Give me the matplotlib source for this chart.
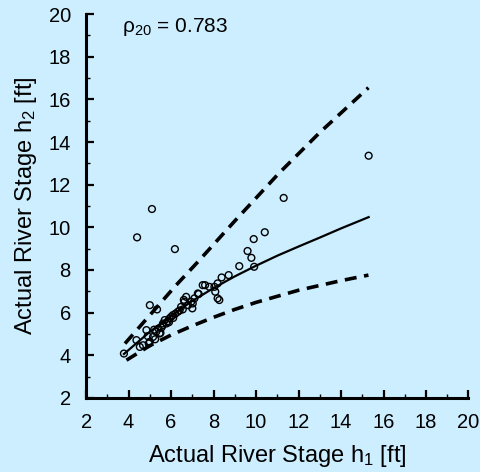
import numpy as np
import matplotlib.pyplot as plt
from matplotlib.ticker import MultipleLocator

plt.rcParams['font.family'] = ['Liberation Sans', 'DejaVu Sans']
plt.rcParams['mathtext.fontset'] = 'custom'
plt.rcParams['mathtext.rm'] = 'Liberation Sans'
plt.rcParams['mathtext.it'] = 'Liberation Sans:italic'

# observed stage pairs (h1, h2)
h1 = [3.78, 4.37, 4.53, 4.68, 4.84, 5.00, 5.15, 5.30, 5.46, 5.55, 5.62, 5.70,
      5.78, 5.85, 5.93, 6.00, 6.08, 6.20, 6.32, 6.40, 6.47, 6.55, 6.63, 6.71,
      6.80, 6.95, 7.02, 7.10, 7.26, 7.30, 7.49, 7.60, 7.80, 8.04, 8.08, 8.19,
      8.19, 8.27, 8.38, 8.71, 9.21, 9.60, 9.78, 9.89, 9.91, 10.41, 11.30, 15.30,
      4.40, 5.10, 6.18, 5.00, 5.34, 4.90, 5.20, 5.40, 5.60, 6.10, 5.90, 4.95,
      5.25, 5.50, 6.60, 7.00]
h2 = [4.08, 4.71, 4.39, 4.47, 5.18, 4.63, 4.86, 5.10, 5.02, 5.30, 5.49, 5.65,
      5.49, 5.60, 5.73, 5.80, 5.88, 5.95, 6.04, 6.10, 6.27, 6.15, 6.51, 6.74,
      6.35, 6.51, 6.43, 6.67, 6.90, 6.87, 7.29, 7.29, 7.21, 7.21, 6.98, 7.37,
      6.67, 6.59, 7.65, 7.76, 8.18, 8.89, 8.57, 9.45, 8.15, 9.77, 11.38, 13.36,
      9.53, 10.86, 8.98, 6.35, 6.15, 4.90, 5.20, 5.25, 5.40, 5.75, 5.55, 4.55,
      4.75, 5.05, 6.60, 6.20]

# fitted relation and prediction bounds
fit_x = [3.78, 5.0, 6.0, 7.0, 8.0, 9.0, 10.0, 11.0, 12.0, 13.0, 14.0, 15.3]
fit_y = [4.06, 5.10, 5.85, 6.55, 7.15, 7.70, 8.20, 8.67, 9.10, 9.52, 9.95, 10.48]
up_x = [3.83, 6.24, 7.26, 9.00, 11.08, 13.00, 15.29]
up_y = [4.55, 7.29, 8.38, 10.30, 12.54, 14.45, 16.55]
lo_x = [3.90, 5.0, 6.0, 7.0, 8.0, 9.0, 10.0, 12.0, 14.0, 15.29]
lo_y = [3.77, 4.45, 4.95, 5.38, 5.78, 6.15, 6.48, 7.05, 7.50, 7.76]

bg = '#cceeff'
fig = plt.figure(figsize=(4.81, 4.72), dpi=100, facecolor=bg)
ax = fig.add_axes([0.179, 0.157, 0.795, 0.813], facecolor=bg)

ax.plot(up_x, up_y, color='black', lw=2.6, ls=(0, (3.3, 2.1)))
ax.plot(lo_x, lo_y, color='black', lw=2.6, ls=(0, (3.3, 2.1)))
ax.plot(fit_x, fit_y, color='black', lw=1.6)
ax.scatter(h1, h2, s=24, facecolors='none', edgecolors='black', linewidths=1.0, zorder=3)

ax.text(3.7, 19.4, r'$\mathrm{\rho_{20}}$ = 0.783', fontsize=15, va='center')

ax.set_xlim(2, 20)
ax.set_ylim(2, 20)
ax.xaxis.set_major_locator(MultipleLocator(2))
ax.xaxis.set_minor_locator(MultipleLocator(1))
ax.yaxis.set_major_locator(MultipleLocator(2))
ax.yaxis.set_minor_locator(MultipleLocator(1))
for s in ['top', 'right']:
    ax.spines[s].set_visible(False)
for s in ['left', 'bottom']:
    ax.spines[s].set_linewidth(2.2)
ax.tick_params(which='major', direction='in', length=6, width=1.6, labelsize=14.5)
ax.tick_params(axis='x', which='major', pad=11)
ax.tick_params(axis='y', which='major', pad=11)
ax.tick_params(which='minor', direction='in', length=3, width=1.0)
ax.set_xlabel('Actual River Stage h$_1$ [ft]', fontsize=17, labelpad=8)
ax.set_ylabel('Actual River Stage h$_2$ [ft]', fontsize=17, labelpad=7)

fig.savefig('out.png', dpi=100, facecolor=bg)
